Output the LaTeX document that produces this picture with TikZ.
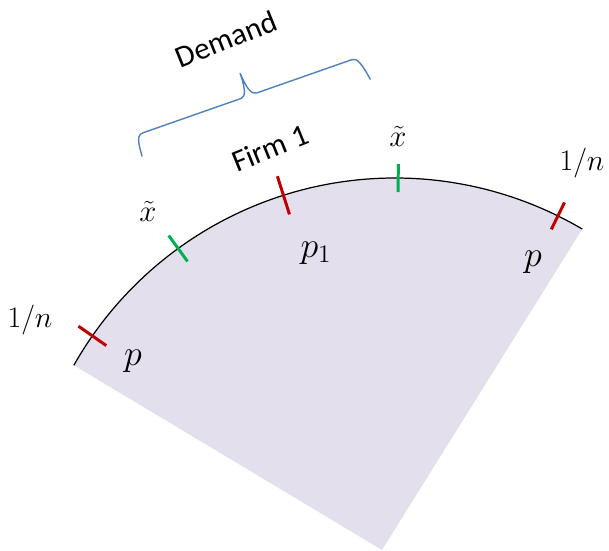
\documentclass[tikz,border=0pt]{standalone}
\usepackage{fix-cm}
\usepackage{amsmath}
\usepackage{fontspec}
\newfontfamily\calfont{Carlito}
\usetikzlibrary{calc}
\definecolor{saloplav}{RGB}{228,223,236}
\definecolor{salopred}{RGB}{192,0,0}
\definecolor{salopgreen}{RGB}{0,176,80}
\definecolor{salopblue}{RGB}{79,129,189}
\tikzset{
  wlbl/.style={font=\calfont\fontsize{17.5}{20}\selectfont, inner sep=1pt},
  nlbl/.style={font=\fontsize{17}{20}\selectfont, inner sep=1pt},
  plbl/.style={font=\fontsize{20.5}{24}\selectfont, inner sep=1pt},
  xlbl/.style={font=\fontsize{17.5}{20}\selectfont, inner sep=1pt},
  stick/.style={line width=1.7pt},
  sarc/.style={line width=0.7pt, black},
  sbrace/.style={line width=0.8pt, salopblue, line join=round},
}
\begin{document}
\begin{tikzpicture}[x=0.02cm,y=0.02cm]
        \useasboundingbox (0,0) rectangle (609,551);
        \coordinate (ctr) at (395,4);
        \fill[saloplav] (382,1) -- ($(ctr)+(150.5:369)$) arc[start angle=150.5,end angle=59.5,radius=369] -- cycle;
        \draw[sarc] ($(ctr)+(150.5:369)$) arc[start angle=150.5,end angle=59.5,radius=369];
        \begin{scope}[shift={(395,4)}]
            \foreach \a/\h/\c in {145.1/17/salopred,126/16/salopgreen,107.6/20/salopred,89.5/14/salopgreen,63.8/15/salopred}
                \draw[stick,\c] (\a:{369-\h}) -- (\a:{369+\h});
        \end{scope}
        \begin{scope}[shift={(136.7,416)},rotate=19.3]
            \draw[sbrace] (-2,-22) .. controls (-1,-6) and (0,0) .. (7,0) -- (111,0) .. controls (116,0) and (118,10) .. (118,24) .. controls (119,10) and (121,0) .. (127,0) -- (228,0) .. controls (234,0) and (236,-8) .. (239,-25);
        \end{scope}
        \node[nlbl](nleft) at (30,231){$1/n$};
        \node[nlbl](nright) at (582,388){$1/n$};
        \node[plbl](pleft) at (133,190){$p$};
        \node[plbl](pone) at (316,298){$p_1$};
        \node[plbl](pright) at (533,289){$p$};
        \node[xlbl](xleft) at (148,340){$\tilde{x}$};
        \node[xlbl](xtop) at (398,415){$\tilde{x}$};
        \node[wlbl,rotate=22](firm) at (270,403){Firm 1};
        \node[wlbl,rotate=22](dem) at (226,512){Demand};
    \end{tikzpicture}
\end{document}
